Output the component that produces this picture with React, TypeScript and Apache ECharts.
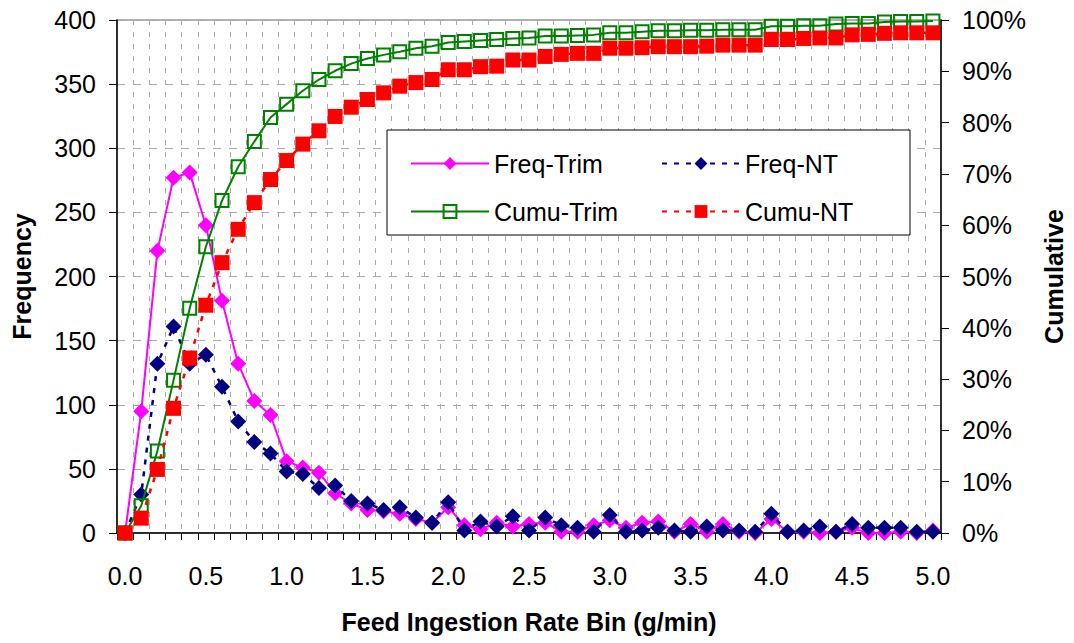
import React, { useEffect, useRef } from "react";
import * as echarts from "echarts";

const categories = [
  "0.0","0.1","0.2","0.3","0.4","0.5","0.6","0.7","0.8","0.9",
  "1.0","1.1","1.2","1.3","1.4","1.5","1.6","1.7","1.8","1.9",
  "2.0","2.1","2.2","2.3","2.4","2.5","2.6","2.7","2.8","2.9",
  "3.0","3.1","3.2","3.3","3.4","3.5","3.6","3.7","3.8","3.9",
  "4.0","4.1","4.2","4.3","4.4","4.5","4.6","4.7","4.8","4.9","5.0",
];

const freqTrim = [
  0, 95, 220, 277, 281, 240, 181, 132, 103, 92,
  56, 51, 47, 31, 23, 18, 17, 15, 11, 8,
  20, 6, 3, 8, 5, 7, 8, 1, 1, 6,
  10, 4, 8, 9, 1, 7, 1, 7, 1, 0,
  11, 1, 1, 0, 1, 4, 0, 0, 1, 0, 2,
];

const freqNT = [
  0, 30, 132, 161, 132, 139, 114, 87, 71, 62,
  48, 46, 35, 37, 25, 23, 18, 20, 12, 8,
  24, 2, 9, 5, 13, 2, 12, 6, 4, 1,
  14, 1, 2, 4, 2, 1, 5, 2, 2, 1,
  15, 1, 2, 5, 1, 7, 4, 4, 4, 1, 1,
];

const cumuTrim = [
  0, 5.3, 16.0, 29.8, 43.8, 55.8, 64.8, 71.4, 76.3, 81.0,
  83.6, 86.2, 88.4, 90.1, 91.5, 92.5, 93.2, 93.8, 94.5, 94.9,
  95.6, 95.8, 96.0, 96.2, 96.4, 96.5, 96.9, 96.9, 97.0, 97.1,
  97.5, 97.5, 97.7, 97.9, 97.9, 98.0, 98.0, 98.1, 98.1, 98.1,
  98.8, 98.8, 98.9, 98.9, 99.2, 99.3, 99.3, 99.6, 99.7, 99.7, 99.8,
];

const cumuNT = [
  0, 2.9, 12.4, 24.3, 34.1, 44.4, 52.7, 59.2, 64.4, 68.9,
  72.6, 75.8, 78.4, 81.2, 83.0, 84.5, 85.8, 87.1, 87.8, 88.4,
  90.3, 90.3, 90.9, 91.0, 92.2, 92.2, 92.9, 93.3, 93.5, 93.5,
  94.5, 94.5, 94.6, 94.8, 94.8, 94.8, 94.9, 95.1, 95.1, 95.1,
  96.2, 96.2, 96.4, 96.5, 96.5, 97.1, 97.2, 97.4, 97.5, 97.5, 97.5,
];

const FONT = "'Liberation Sans', Arial, sans-serif";

export default function App() {
  const ref = useRef<HTMLDivElement>(null);
  useEffect(() => {
    if (!ref.current) return;
    const chart = echarts.init(ref.current, null, { renderer: "svg" });
    const legendText = { fontSize: 25, color: "#000", fontFamily: FONT, lineHeight: 25 };
    chart.setOption({
      animation: false,
      backgroundColor: "#fff",
      textStyle: { fontFamily: FONT },
      grid: {
        left: 117,
        right: 126,
        top: 20,
        bottom: 110,
        show: true,
        borderColor: "#999",
        borderWidth: 1.5,
        backgroundColor: "#fff",
      },
      graphic: [
        {
          type: "rect",
          z: 3,
          shape: { x: 387, y: 130, width: 523, height: 105 },
          style: { fill: "#fff", stroke: "#000", lineWidth: 1 },
        },
      ],
      legend: [
        {
          data: ["Freq-Trim", "Cumu-Trim"],
          orient: "vertical",
          left: 405,
          top: 146,
          itemWidth: 78,
          itemHeight: 16,
          itemGap: 23,
          textStyle: legendText,
          z: 5,
        },
        {
          data: ["Freq-NT", "Cumu-NT"],
          orient: "vertical",
          left: 656,
          top: 146,
          itemWidth: 78,
          itemHeight: 16,
          itemGap: 23,
          textStyle: legendText,
          z: 5,
        },
      ],
      xAxis: {
        type: "category",
        data: categories,
        boundaryGap: true,
        name: "Feed Ingestion Rate Bin (g/min)",
        nameLocation: "middle",
        nameGap: 76,
        nameTextStyle: { fontSize: 25, fontWeight: "bold", color: "#000", fontFamily: FONT },
        axisLine: { lineStyle: { color: "#000", width: 1.5 } },
        axisTick: { show: true, interval: 0, length: 7, lineStyle: { color: "#000" } },
        axisLabel: { interval: 4, fontSize: 25, color: "#000", margin: 30, fontFamily: FONT },
        splitLine: {
          show: true,
          interval: 0,
          lineStyle: { color: "#aaa", type: [5, 7], width: 1 },
        },
      },
      yAxis: [
        {
          type: "value",
          min: 0,
          max: 400,
          interval: 50,
          name: "Frequency",
          nameLocation: "middle",
          nameGap: 83,
          nameTextStyle: { fontSize: 25, fontWeight: "bold", color: "#000", fontFamily: FONT },
          axisLine: { show: true, lineStyle: { color: "#000", width: 1.5 } },
          axisTick: { show: true, length: 8, lineStyle: { color: "#000" } },
          axisLabel: { fontSize: 25, color: "#000", margin: 21, fontFamily: FONT },
          splitLine: { show: true, lineStyle: { color: "#aaa", type: [8, 8], width: 1 } },
        },
        {
          type: "value",
          min: 0,
          max: 100,
          interval: 10,
          name: "Cumulative",
          nameLocation: "middle",
          nameGap: 100,
          nameTextStyle: { fontSize: 25, fontWeight: "bold", color: "#000", fontFamily: FONT },
          axisLine: { show: true, lineStyle: { color: "#000", width: 1.5 } },
          axisTick: { show: true, length: 8, lineStyle: { color: "#000" } },
          axisLabel: { fontSize: 25, color: "#000", margin: 21, formatter: "{value}%", fontFamily: FONT },
          splitLine: { show: false },
        },
      ],
      series: [
        {
          name: "Freq-Trim",
          type: "line",
          yAxisIndex: 0,
          data: freqTrim,
          symbol: "diamond",
          symbolSize: 16,
          showAllSymbol: true,
          color: "#FF00FF",
          lineStyle: { color: "#FF00FF", width: 2 },
          itemStyle: { color: "#FF00FF" },
          z: 2,
        },
        {
          name: "Freq-NT",
          type: "line",
          yAxisIndex: 0,
          data: freqNT,
          symbol: "diamond",
          symbolSize: 16,
          showAllSymbol: true,
          color: "#000080",
          lineStyle: { color: "#000080", width: 2.5, type: [5, 7] },
          itemStyle: { color: "#000080" },
          z: 3,
        },
        {
          name: "Cumu-Trim",
          type: "line",
          yAxisIndex: 1,
          data: cumuTrim,
          symbol: "rect",
          symbolSize: 13,
          showAllSymbol: true,
          color: "#008000",
          lineStyle: { color: "#008000", width: 2 },
          itemStyle: { color: "rgba(255,255,255,0)", borderColor: "#008000", borderWidth: 2 },
          z: 4,
        },
        {
          name: "Cumu-NT",
          type: "line",
          yAxisIndex: 1,
          data: cumuNT,
          symbol: "rect",
          symbolSize: 15,
          showAllSymbol: true,
          color: "#FF0000",
          lineStyle: { color: "#FF0000", width: 2.5, type: [5, 7] },
          itemStyle: { color: "#FF0000" },
          z: 5,
        },
      ],
    });
    return () => chart.dispose();
  }, []);
  return (
    <div
      ref={ref}
      style={{ position: "fixed", left: 0, top: 0, width: 1074, height: 643, overflow: "hidden", background: "#fff" }}
    />
  );
}
